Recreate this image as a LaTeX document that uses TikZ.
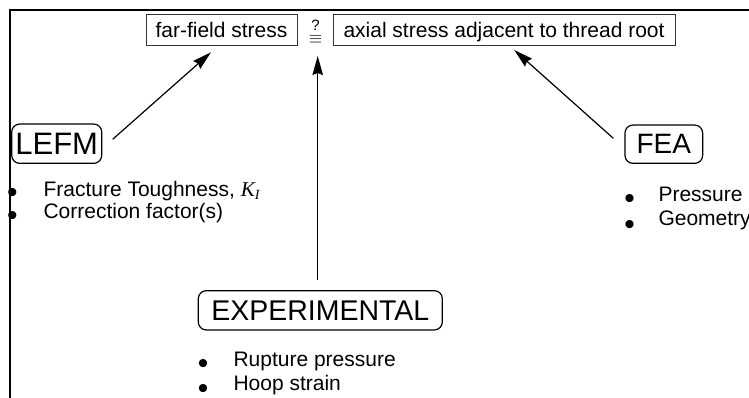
\documentclass[tikz,border=0pt]{standalone}
\usepackage{fontspec}
\setmainfont{Liberation Sans}
\newfontfamily\tnr{Liberation Serif}
\usetikzlibrary{arrows.meta}
\begin{document}
\begin{tikzpicture}[x=1pt,y=-1pt,
  topbox/.style={draw=black!80, line width=0.9pt, inner sep=0pt, text depth=0pt, minimum height=31pt, font=\fontsize{21}{25}\selectfont},
  method/.style={draw, rounded corners=8pt, line width=1.2pt, inner sep=0pt, text depth=0pt},
  item/.style={anchor=base west, inner sep=0pt, font=\fontsize{21}{25}\selectfont},
  bul/.style={anchor=base, inner sep=0pt, font=\fontsize{30}{30}\selectfont},
  arr/.style={line width=1.2pt, -{Stealth[length=19pt,width=10.5pt,inset=2pt]}}
]
\useasboundingbox (0,0) rectangle (749,398);
\draw[line width=2pt] (749,10) -- (10,10) -- (10,398);

% top boxes
\node[topbox, minimum width=151pt] (ff) at (221.5,30) {far-field stress};
\node[topbox, minimum width=342pt] (ax) at (504,30) {axial stress adjacent to thread root};
\node[inner sep=0pt, font=\fontsize{15}{15}\selectfont] (q) at (315.5,25.2) {?};
\node[inner sep=0pt, font=\fontsize{16}{16}\selectfont] (eqv) at (315.5,39.8) {$\equiv$};

% methods
\node[method, minimum width=90pt, minimum height=39.3pt, font=\fontsize{31}{36}\selectfont] (lefm) at (56.7,143.7) {LEFM};
\node[method, minimum width=77.7pt, minimum height=38.3pt, font=\fontsize{28}{32}\selectfont] (fea) at (663.8,144.2) {FEA};
\node[method, minimum width=244pt, minimum height=39.3pt, font=\fontsize{28.5}{32}\selectfont] (exp) at (320.3,310.3) {EXPERIMENTAL};

% LEFM list
\node[bul] (lb1) at (12.5,202.5) {•};
\node[bul] (lb2) at (12.5,225.2) {•};
\node[item] (l1) at (43.3,196.7) {Fracture Toughness, {\tnr\itshape K\raisebox{-3pt}{\fontsize{14}{14}\selectfont I}}};
\node[item] (l2) at (43.3,218.8) {Correction factor(s)};

% FEA list
\node[bul] (fb1) at (629.7,208.5) {•};
\node[bul] (fb2) at (629.7,234.3) {•};
\node[item] (f1) at (658.3,201.7) {Pressure};
\node[item] (f2) at (658.3,225.2) {Geometry};

% EXPERIMENTAL list
\node[bul] (eb1) at (203,373.5) {•};
\node[bul] (eb2) at (203,398.2) {•};
\node[item] (e1) at (233.3,366.7) {Rupture pressure};
\node[item] (e2) at (233.3,390) {Hoop strain};

% arrow ends
\coordinate (ls) at (112.7,139.3);
\coordinate (lt) at (211,52.3);
\coordinate (vs) at (317.7,280);
\coordinate (vt) at (317.7,56);
\coordinate (rs) at (613.3,138.3);
\coordinate (rt) at (514.3,50);
\draw[arr] (ls) -- (lt);
\draw[arr] (vs) -- (vt);
\draw[arr] (rs) -- (rt);
\end{tikzpicture}
\end{document}
